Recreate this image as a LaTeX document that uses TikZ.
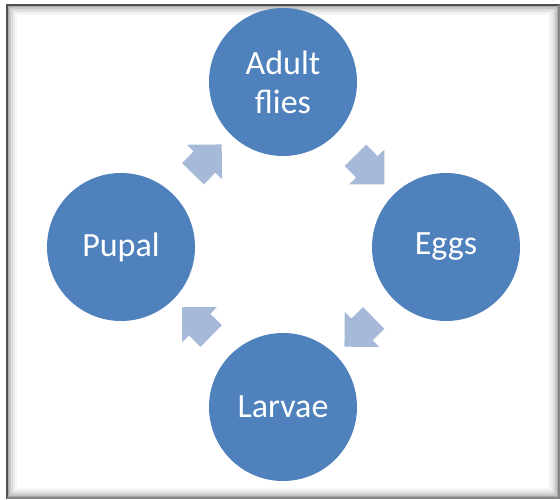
\documentclass[tikz,border=0pt]{standalone}
\usepackage{fontspec}
\setmainfont{Carlito}
\usetikzlibrary{positioning, shapes.arrows}

\definecolor{stageblue}{RGB}{79,129,189}
\definecolor{flowblue}{RGB}{167,185,217}
\definecolor{rimgray}{RGB}{80,80,80}

\tikzset{
  stage/.style={circle, fill=stageblue, text=white, minimum size=148pt,
    inner sep=0pt, align=center, font=\fontsize{34}{39}\selectfont},
  flow/.style={single arrow, fill=flowblue, minimum height=41pt,
    single arrow head extend=9.5pt, inner xsep=0pt, inner ysep=15pt,
    sloped, allow upside down}
}

\begin{document}
\begin{tikzpicture}[x=1pt, y=1pt, node distance=165pt, on grid]
    \useasboundingbox (0,0) rectangle (560,499);
    \fill[white] (0,0) rectangle (560,499);
    % shadowed frame
    \foreach \d/\o in {1/0.5, 3/0.32, 5/0.2, 7/0.11, 9/0.05}
        \draw[rimgray, opacity=\o, line width=2pt]
            ({7+\d},{1+\d}) rectangle ({559-\d},{494-\d});
    \draw[rimgray, line width=2.5pt] (7,0) -- (7,494) -- (560,494);
    \draw[rimgray!70, line width=2pt] (7,1) -- (559,1) -- (559,494);

    \node[stage] (adult) at (283,417) {Adult\\flies};
    \node[stage] (eggs) [below right=165pt and 163pt of adult] {Eggs};
    \node[stage] (pupal) [below left=165pt and 162pt of adult] {Pupal};
    \node[stage] (larvae) [below=325pt of adult] {Larvae};

    \path (adult) -- node[flow] {} (eggs);
    \path (eggs) -- node[flow] {} (larvae);
    \path (larvae) -- node[flow] {} (pupal);
    \path (pupal) -- node[flow] {} (adult);
\end{tikzpicture}
\end{document}
